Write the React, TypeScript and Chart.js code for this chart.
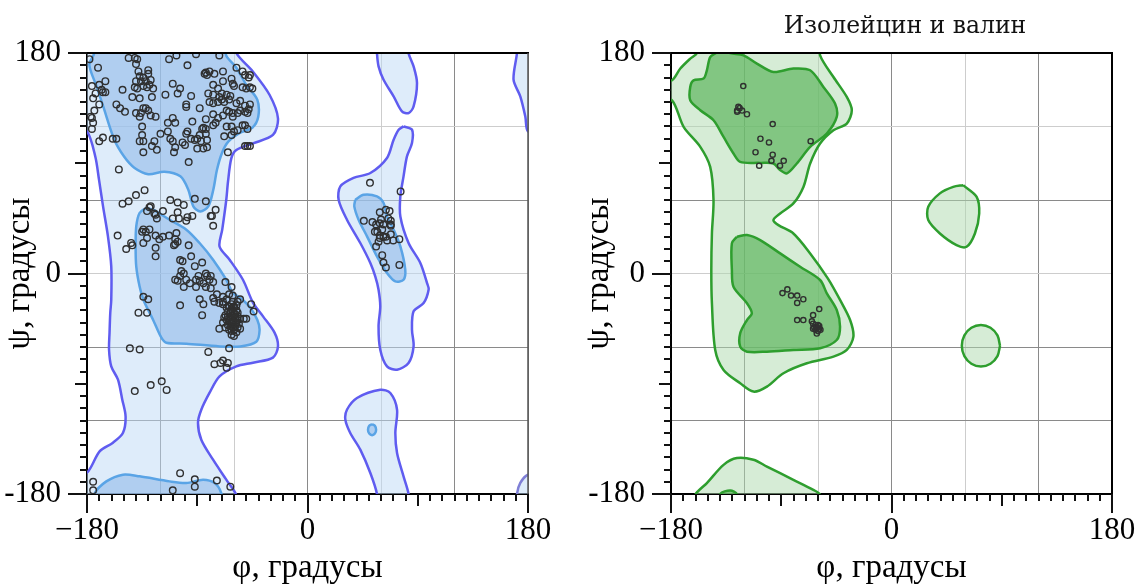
import React, { useEffect, useRef } from 'react';
import { Chart, registerables } from 'chart.js';

Chart.register(...registerables);

type Pt = [number, number];

// ---------- text & ticks ----------
const xAxisTitle = 'φ, градусы';
const yAxisTitle = 'ψ, градусы';
const rightTitle = 'Изолейцин и валин';
const gridStep = 60;
const tickLabelValues = [-180, 0, 180];
const xTickLabels = ['−180', '0', '180'];
const yTickLabels = ['-180', '0', '180'];
const lightGridPhi = [-60, 60];
const lightGridPsi = [120, 0];

// ---------- left chart: contour regions (phi, psi in degrees) ----------
const outerLeftMain: Pt[] = [[-190,190],[-58,190],[-58.1,180],[-44.5,164.7],[-30.9,145.7],[-24.1,126.6],[-28.2,113.1],[-44.5,106.2],[-58.1,100.8],[-62.2,94],[-64.9,74.9],[-66.3,60.2],[-69.6,35.8],[-71.8,22.1],[-63.6,11.3],[-52.7,-5.1],[-44.5,-23.8],[-36.3,-35],[-26.9,-48.3],[-24.1,-59.5],[-28.2,-68.7],[-44.5,-72.8],[-58.1,-75.8],[-71.8,-84],[-79.9,-97.3],[-86.7,-111.2],[-89.4,-121.8],[-86.7,-135.7],[-77.1,-152],[-66.3,-168.3],[-58,-181],[-57,-190],[-190,-190],[-190,-163],[-180,-162.6],[-169.7,-145.2],[-158.8,-138.1],[-150.6,-130],[-148.5,-116.7],[-151.2,-103],[-154.7,-86.7],[-160.2,-75.8],[-162,-62.2],[-161.6,-48.3],[-161,-32],[-160.2,-21.4],[-160.2,5.8],[-162.9,30.3],[-166.9,54.8],[-170.2,76.6],[-173.2,95.3],[-180,116],[-190,117]];
const outerLeftTopLH: Pt[] = [[56.5,190],[56.7,180],[58,169.1],[62.1,158.2],[70.3,144.6],[77.1,132.3],[82.5,131],[86.6,136.4],[89.4,155.5],[86.6,169.1],[82.5,180],[82.5,190]];
const outerLeftMidLH: Pt[] = [[78.4,120.1],[85.3,117.4],[85.3,106.5],[81.2,95.6],[78.4,79.3],[75.8,62.9],[75.8,46.6],[82.5,24.9],[92.1,8.6],[97.6,-7.8],[98.9,-13],[94.8,-24.1],[86.6,-30.9],[85.3,-45.9],[86.6,-59.5],[82.5,-73.1],[73.1,-78.5],[64.9,-75.8],[59.4,-62.2],[58,-43.2],[59.4,-26.9],[58,-13.2],[55.3,-2.4],[51.3,8.6],[43.1,24.9],[32.2,43.9],[25.4,60.2],[26.8,71.1],[37.6,78],[51.3,82],[64.9,94.3],[70.3,109.2],[74.4,117.4]];
const outerLeftLowLH: Pt[] = [[56.5,-190],[56.7,-180],[51.3,-162.9],[43.1,-143.8],[34.9,-130.2],[30.9,-119.3],[32.2,-111.2],[40.4,-101.6],[59.4,-94.9],[67.6,-97.6],[73.1,-111.2],[71.7,-130.2],[73.1,-146.5],[78.4,-165.6],[82.5,-180],[82.5,-190]];
const outerLeftEdgeTop: Pt[] = [[171,190],[171,180],[168.2,158.2],[173.7,144.6],[177.8,128.2],[180,116],[190,116],[190,190]];
const outerLeftEdgeBottom: Pt[] = [[171,-190],[171,-180],[173.7,-171],[180,-164.3],[190,-164],[190,-190]];
const innerLeftBeta: Pt[] = [[-174,190],[-174,180],[-178.1,170.4],[-172.4,153.3],[-166.7,136.2],[-157.7,109.2],[-149.6,95.3],[-141.4,86.4],[-130,81.1],[-116.9,83.1],[-103.8,79.3],[-97.3,68.4],[-93.2,54.8],[-87.5,50.7],[-81,54.8],[-76.9,68.4],[-73.9,84.7],[-69.8,98.4],[-64.7,107.6],[-54.9,114.9],[-45.1,119],[-40.2,128],[-41,141.9],[-50,154.1],[-58.1,168],[-66.3,177.8],[-68.7,190]];
const innerLeftAlpha: Pt[] = [[-131.6,53.5],[-126.1,52.1],[-112.6,43.9],[-98.9,35.8],[-88.1,24.9],[-77.1,11.3],[-66.3,-5.1],[-60.8,-15.9],[-54.9,-19.8],[-46.7,-27.9],[-41,-37.7],[-39.1,-45.9],[-41.8,-55.7],[-54.9,-59.5],[-71.8,-59.5],[-98.9,-57.3],[-115.3,-56.5],[-119.3,-52.4],[-126.1,-37.7],[-134,-21.4],[-137.1,-10.5],[-139.8,5.8],[-140.3,22.1],[-139.8,38.4],[-137.1,49.4]];
const innerLeftBottom: Pt[] = [[-174,-190],[-174,-180],[-164.2,-169.7],[-150.6,-164.2],[-137.1,-165.6],[-112.6,-169.7],[-98.9,-171],[-85.3,-168.3],[-75.8,-171],[-70.4,-179.2],[-69.6,-190]];
const innerLeftLH: Pt[] = [[39,60.2],[45.8,64.3],[56.7,62.9],[62.1,57.6],[64.9,46.6],[70.3,35.8],[75.8,22.1],[79.8,3.1],[78.4,-5.1],[71.7,-6.4],[64.9,0.4],[56.7,14],[48.6,30.3],[41.7,43.9],[38.2,54.8]];
const innerLeftDot: Pt[] = [[52.7,-123],[55,-124.3],[56,-127.5],[55,-130.7],[52.7,-132],[50.4,-130.7],[49.4,-127.5],[50.4,-124.3]];

// ---------- left chart: residues ----------
const betaPointsL: Pt[] = [[-178,175],[-171,168],[-146,176],[-141,176],[-139,175],[-140,171],[-130,166],[-130,163],[-113,175],[-107,178],[-98,170],[-91,179],[-72,178],[-84,163],[-83,164],[-82,162],[-80,165],[-76,163],[-69,165],[-58,168],[-53,165],[-51,162],[-47,162],[-48,160],[-138,165],[-137,161],[-134,160],[-136,157],[-132,157],[-128,158],[-129,154],[-140,157],[-139,151],[-141,152],[-134,153],[-131,152],[-126,151],[-176,153],[-170,154],[-165,157],[-168,150],[-167,148],[-165,148],[-173,147],[-175,143],[-151,150],[-143,144],[-137,143],[-127,144],[-116,146],[-110,155],[-104,151],[-106,147],[-95,145],[-99,138],[-88,135],[-81,147],[-77,154],[-77,146],[-73,151],[-70,147],[-69,157],[-72,144],[-70,142],[-66,146],[-63,145],[-62,159],[-61,155],[-60,153],[-53,152],[-50,151],[-47,152],[-45,151],[-80,140],[-77,139],[-73,140],[-68,140],[-64,142],[-58,139],[-55,141],[-51,137],[-47,138]];
const betaPointsL2: Pt[] = [[-170,138],[-174,133],[-156,138],[-153,135],[-149,132],[-140,131],[-136,131],[-134,135],[-132,135],[-130,133],[-128,129],[-124,128],[-137,128],[-177,128],[-176,127],[-175,123],[-176,118],[-110,127],[-114,123],[-108,123],[-94,124],[-99,136],[-83,126],[-77,130],[-73,127],[-69,129],[-66,133],[-64,132],[-61,131],[-57,131],[-55,133],[-51,132],[-49,131],[-48,134],[-61,128],[-75,123],[-77,121],[-66,120],[-62,120],[-57,117],[-53,121],[-51,121],[-49,118],[-170,108],[-167,111],[-159,110],[-156,110],[-135,120],[-135,113],[-137,108],[-134,108],[-125,108],[-127,104],[-123,101],[-134,99],[-120,114],[-114,116],[-112,110],[-110,108],[-108,103],[-109,99],[-102,107],[-99,114],[-98,116],[-95,110],[-92,109],[-90,110],[-88,113],[-86,118],[-85,119],[-83,118],[-83,114],[-87,108],[-82,109],[-90,102],[-85,102],[-82,103],[-100,105],[-68,112],[-62,113],[-60,116],[-51,104],[-49,104],[-47,104],[-65,99],[-97,91],[-154,85]];
const bridgePointsL: Pt[] = [[-133,68],[-140,64],[-151,57],[-146,59],[-128,55],[-129,54],[-131,51],[-125,49],[-124,48],[-123,45],[-118,51],[-112,60],[-106,58],[-101,56],[-106,50],[-110,45],[-105,45],[-99,43],[-98,46],[-94,47],[-92,61],[-83,59],[-79,47],[-78,47],[-75,52],[-77,39]];
const alphaPointsL: Pt[] = [[-155,31],[-144,25],[-143,23],[-148,20],[-134,36],[-132,34],[-129,36],[-135,34],[-131,29],[-134,25],[-124,31],[-121,28],[-118,30],[-113,31],[-107,33],[-108,28],[-106,26],[-108,24],[-109,23],[-124,21],[-124,14],[-97,23],[-95,14],[-92,6],[-86,9],[-104,11],[-102,10],[-103,2],[-101,0],[-104,-2],[-108,-5],[-106,-6],[-99,-5],[-101,-11],[-96,-8],[-91,-5],[-89,-2],[-88,-6],[-83,0],[-82,-2],[-85,-8],[-91,-11],[-83,-11],[-80,-5],[-79,-2],[-77,-7],[-79,-12],[-67,-7],[-62,-11],[-64,-17],[-69,-19],[-66,-21],[-61,-18],[-55,-21],[-72,-24],[-76,-23],[-77,-20],[-88,-21],[-85,-25],[-104,-26],[-134,-19],[-130,-21],[-60,-27],[-64,-27],[-46,-25],[-74,-17],[-69,-25],[-69,-23],[-61,-23],[-57,-23],[-44,-31],[-138,-32],[-131,-32],[-86,-34],[-72,-45],[-50,-37],[-52,-37]];
const helixCorePointsL: Pt[] = [[-66,-28],[-64,-27],[-62,-29],[-60,-28],[-58,-30],[-65,-31],[-63,-32],[-61,-31],[-59,-33],[-57,-32],[-67,-34],[-65,-35],[-63,-36],[-61,-35],[-59,-36],[-57,-35],[-55,-37],[-66,-38],[-64,-39],[-62,-40],[-60,-39],[-58,-40],[-56,-41],[-65,-42],[-63,-43],[-61,-44],[-59,-43],[-57,-44],[-64,-46],[-62,-47],[-60,-46],[-58,-48],[-62,-50],[-60,-51],[-68,-36],[-69,-40],[-67,-44],[-55,-45],[-57,-38],[-61,-41],[-63,-38],[-59,-41],[-60,-33],[-62,-25],[-58,-26]];
const lowerPointsL: Pt[] = [[-145,-61],[-137,-62],[-81,-64],[-64,-61],[-76,-74],[-71,-73],[-69,-71],[-65,-73],[-66,-77],[-119,-88],[-128,-91],[-115,-95],[-141,-96],[-104,-163],[-92,-168],[-74,-169],[-92,-174],[-63,-174],[-175,-170],[-175,-177],[-110,-177]];
const leftHandedPointsL: Pt[] = [[51,74],[76,67],[59,50],[64,52],[67,51],[66,45],[68,43],[46,43],[53,42],[56,40],[59,41],[60,44],[62,40],[68,40],[55,34],[57,34],[61,36],[59,31],[62,30],[64,30],[68,32],[70,27],[65,27],[75,28],[59,29],[58,26],[56,22],[61,15],[62,9],[64,5],[75,7],[68,39]];

// ---------- right chart: contour regions ----------
const outerRightMain: Pt[] = [[-190,156],[-179.2,157.7],[-172.4,167.3],[-164.3,175.4],[-158.8,180],[-158,190],[-58,190],[-58.3,178.1],[-47.4,160.4],[-36.5,144.1],[-32.4,133.3],[-36.5,122.4],[-47.4,117],[-58.3,106.1],[-66.4,89.8],[-71.9,70.7],[-80.1,57.2],[-90.9,49],[-96.4,43.6],[-92.3,39.5],[-80.1,32.7],[-66.4,16.4],[-52,-4],[-42,-21.6],[-33.8,-38],[-31.1,-51.6],[-36.5,-62.4],[-47.4,-67.9],[-69.1,-73.3],[-88.2,-81.4],[-101.7,-92.3],[-112.7,-96.4],[-123.5,-89.6],[-137.1,-78.7],[-143.9,-62.4],[-146.6,-24.3],[-147.1,2.8],[-146.6,32.7],[-145.3,59.9],[-148,87],[-156.1,103.4],[-169.7,119.7],[-179.2,141.4],[-190,141]];
const outerRightBottom: Pt[] = [[-161,-190],[-160.2,-180.6],[-150.7,-171.1],[-137.1,-156.2],[-126.2,-150.7],[-112.7,-152.1],[-101.7,-157.6],[-80.1,-168.4],[-63.8,-176.6],[-58.3,-180.6],[-58,-190]];
const outerRightBlob: Pt[] = [[58.5,72.1],[69.5,62.6],[71.6,49],[68.1,32.7],[61.3,21.8],[53.1,23.2],[39.5,32.7],[30,43.6],[30,54.4],[39.5,65.4],[50.4,70.7]];
const outerRightRound: Pt[] = [[88.6,-59],[86.5,-50.5],[80.8,-44.3],[73,-42],[65.2,-44.3],[59.5,-50.5],[57.4,-59],[59.5,-67.5],[65.2,-73.7],[73,-76],[80.8,-73.7],[86.5,-67.5]];
const innerRightBeta: Pt[] = [[-142.5,190],[-142.5,181],[-148,176.7],[-150.7,165.9],[-153.4,159.1],[-161.6,157.7],[-164.3,152.3],[-164.3,141.4],[-156.1,133.3],[-145.3,125.1],[-137.1,111.5],[-129,98],[-123.5,91.1],[-107.2,90.3],[-96.4,89.8],[-90.9,84.4],[-85.4,81.7],[-77.3,89.8],[-66.4,103.4],[-52.8,114.3],[-44.7,127.8],[-46.1,138.7],[-55.6,152.3],[-66.4,165.9],[-80.1,167.3],[-96.4,164.5],[-109.9,171.4],[-120.8,178.1],[-134.3,181],[-134,190]];
const innerRightAlpha: Pt[] = [[-126.2,30],[-118,31.4],[-107.2,27.3],[-90.9,16.4],[-74.6,5.5],[-58.3,-5.3],[-52.8,-16.2],[-44.7,-29.8],[-42,-43.4],[-44.7,-54.3],[-58.3,-61],[-80.1,-62.4],[-101.7,-63.8],[-118,-63.8],[-123.5,-59.7],[-123.5,-48.8],[-118,-38],[-114,-32.5],[-118,-24.3],[-129,-10.8],[-130.3,2.8],[-130.3,24.6]];
const innerRightBottom: Pt[] = [[-141,-190],[-139.8,-180],[-131.7,-177.1],[-126.2,-180],[-125,-190]];

// ---------- right chart: residues ----------
const betaPointsR: Pt[] = [[-121,153],[-125,136],[-126,133],[-124,135],[-126,132],[-122,133],[-118,130],[-97,122],[-107,110],[-100,107],[-111,99],[-97,97],[-98,92],[-88,92],[-91,88],[-108,88],[-66,108]];
const alphaPointsR: Pt[] = [[-85,-13],[-89,-16],[-82,-18],[-77,-18],[-72,-21],[-77,-24],[-59,-29],[-64,-34],[-65,-39],[-77,-38],[-72,-38],[-64,-41],[-62,-42],[-60,-42],[-63,-44],[-61,-44],[-59,-45],[-62,-46],[-60,-47],[-58,-46],[-61,-49],[-64,-45],[-59,-43]];

// ---------- styles ----------
const SERIF = 'Liberation Serif';
const GRID_DARK = '#8a8a8a';
const GRID_LIGHT = '#cdcdcd';

const toXY = (pts: Pt[]) => [...pts, pts[0]].map(([x, y]) => ({ x, y }));
const toPts = (pts: Pt[]) => pts.map(([x, y]) => ({ x, y }));

const region = (pts: Pt[], fill: string, line: string, order: number) => ({
  data: toXY(pts),
  showLine: true,
  fill: 'shape',
  backgroundColor: fill,
  borderColor: line,
  borderWidth: 2.5,
  pointRadius: 0,
  pointHoverRadius: 0,
  tension: 0.3,
  capBezierPoints: false,
  order,
});

const residues = (pts: Pt[], r: number) => ({
  data: toPts(pts),
  showLine: false,
  pointRadius: r,
  pointHoverRadius: r,
  pointBorderWidth: 1.4,
  pointBorderColor: '#303030',
  pointBackgroundColor: 'rgba(0,0,0,0)',
  order: 0,
});

const labelFor = (labels: string[]) => (v: number) => {
  const i = tickLabelValues.indexOf(v);
  return i >= 0 ? labels[i] : '';
};

const axisDecor = {
  id: 'axisDecor',
  afterDraw(chart: any, _a: any, opts: any) {
    const { ctx, chartArea: a } = chart;
    const xs = chart.scales.x;
    const ys = chart.scales.y;
    ctx.save();
    ctx.strokeStyle = '#111';
    ctx.lineWidth = 2;
    ctx.beginPath();
    for (let v = -180; v <= 180; v += 10) {
      const len = v % 180 === 0 ? 19 : v % 90 === 0 ? 12 : 7;
      const px = Math.round(xs.getPixelForValue(v));
      ctx.moveTo(px, a.bottom);
      ctx.lineTo(px, a.bottom + len);
      const py = Math.round(ys.getPixelForValue(v));
      ctx.moveTo(a.left, py);
      ctx.lineTo(a.left - len, py);
    }
    ctx.stroke();
    ctx.beginPath();
    ctx.strokeStyle = '#000';
    ctx.lineWidth = 2;
    ctx.moveTo(a.left, a.top);
    ctx.lineTo(a.right + 1, a.top);
    ctx.stroke();
    ctx.beginPath();
    ctx.strokeStyle = opts.rightColor;
    ctx.lineWidth = opts.rightWidth;
    ctx.moveTo(a.right, a.top);
    ctx.lineTo(a.right, a.bottom);
    ctx.stroke();
    ctx.restore();
  },
};

const makeScales = (yWidth: number, yTitlePad: number) => ({
  x: {
    type: 'linear',
    min: -180,
    max: 180,
    position: 'bottom',
    ticks: {
      stepSize: gridStep,
      autoSkip: false,
      maxRotation: 0,
      padding: 18,
      color: '#000',
      font: { family: SERIF, size: 31 },
      callback: labelFor(xTickLabels),
    },
    grid: {
      drawTicks: false,
      lineWidth: 1,
      color: (c: any) => (c.tick && lightGridPhi.includes(c.tick.value) ? GRID_LIGHT : GRID_DARK),
    },
    border: { color: '#000', width: 2 },
    title: {
      display: true,
      text: xAxisTitle,
      color: '#000',
      font: { family: SERIF, size: 33, lineHeight: 1.1 },
      padding: { top: 0, bottom: 0 },
    },
    afterFit: (s: any) => {
      s.height = 92;
    },
  },
  y: {
    type: 'linear',
    min: -180,
    max: 180,
    position: 'left',
    ticks: {
      stepSize: gridStep,
      autoSkip: false,
      padding: 26,
      color: '#000',
      font: { family: SERIF, size: 31 },
      callback: labelFor(yTickLabels),
    },
    grid: {
      drawTicks: false,
      lineWidth: 1,
      color: (c: any) => (c.tick && lightGridPsi.includes(c.tick.value) ? GRID_LIGHT : GRID_DARK),
    },
    border: { color: '#000', width: 2 },
    title: {
      display: true,
      text: yAxisTitle,
      color: '#000',
      font: { family: SERIF, size: 33, lineHeight: 1.1 },
      padding: { top: yTitlePad, bottom: 0 },
    },
    afterFit: (s: any) => {
      s.width = yWidth;
    },
  },
});

const BLUE_OUT_FILL = 'rgba(190,218,245,0.5)';
const BLUE_OUT_LINE = '#5f5cf0';
const BLUE_IN_FILL = 'rgba(145,186,233,0.6)';
const BLUE_IN_LINE = '#5aa4e6';
const GREEN_OUT_FILL = 'rgba(173,217,173,0.5)';
const GREEN_IN_FILL = 'rgba(94,182,94,0.7)';
const GREEN_LINE = '#2e9e2e';

const leftConfig = (): any => ({
  type: 'scatter',
  data: {
    datasets: [
      residues([...betaPointsL, ...betaPointsL2, ...bridgePointsL, ...alphaPointsL, ...helixCorePointsL, ...lowerPointsL, ...leftHandedPointsL], 3.3),
      region(innerLeftBeta, BLUE_IN_FILL, BLUE_IN_LINE, 1),
      region(innerLeftAlpha, BLUE_IN_FILL, BLUE_IN_LINE, 1),
      region(innerLeftBottom, BLUE_IN_FILL, BLUE_IN_LINE, 1),
      region(innerLeftLH, BLUE_IN_FILL, BLUE_IN_LINE, 1),
      region(innerLeftDot, BLUE_IN_FILL, BLUE_IN_LINE, 1),
      region(outerLeftMain, BLUE_OUT_FILL, BLUE_OUT_LINE, 2),
      region(outerLeftTopLH, BLUE_OUT_FILL, BLUE_OUT_LINE, 2),
      region(outerLeftMidLH, BLUE_OUT_FILL, BLUE_OUT_LINE, 2),
      region(outerLeftLowLH, BLUE_OUT_FILL, BLUE_OUT_LINE, 2),
      region(outerLeftEdgeTop, BLUE_OUT_FILL, BLUE_OUT_LINE, 2),
      region(outerLeftEdgeBottom, BLUE_OUT_FILL, '#7f7fd6', 2),
    ],
  },
  options: {
    responsive: false,
    animation: false,
    layout: { padding: { left: 0, top: 53, right: 45, bottom: 0 } },
    elements: { line: { capBezierPoints: false } },
    plugins: {
      legend: { display: false },
      tooltip: { enabled: false },
      title: { display: false },
      axisDecor: { rightColor: '#555', rightWidth: 1.5 },
    },
    scales: makeScales(87, 2),
  },
  plugins: [axisDecor],
});

const rightConfig = (): any => ({
  type: 'scatter',
  data: {
    datasets: [
      residues([...betaPointsR, ...alphaPointsR], 2.6),
      region(innerRightBeta, GREEN_IN_FILL, GREEN_LINE, 1),
      region(innerRightAlpha, GREEN_IN_FILL, GREEN_LINE, 1),
      region(innerRightBottom, GREEN_IN_FILL, GREEN_LINE, 1),
      region(outerRightMain, GREEN_OUT_FILL, GREEN_LINE, 2),
      region(outerRightBottom, GREEN_OUT_FILL, GREEN_LINE, 2),
      region(outerRightBlob, GREEN_OUT_FILL, GREEN_LINE, 2),
      region(outerRightRound, GREEN_OUT_FILL, GREEN_LINE, 2),
    ],
  },
  options: {
    responsive: false,
    animation: false,
    layout: { padding: 0 },
    elements: { line: { capBezierPoints: false } },
    plugins: {
      legend: { display: false },
      tooltip: { enabled: false },
      title: {
        display: true,
        text: rightTitle,
        color: '#111',
        fullSize: true,
        font: { family: 'DejaVu Serif', size: 23.5, weight: 'normal', lineHeight: 1.2 },
        padding: { top: 13, bottom: 11.8 },
      },
      axisDecor: { rightColor: '#000', rightWidth: 2 },
    },
    scales: {
      ...makeScales(98, 8),
      y2: {
        type: 'linear',
        position: 'right',
        display: true,
        ticks: { display: false },
        grid: { display: false, drawTicks: false },
        border: { display: false },
        title: { display: false },
        afterFit: (s: any) => {
          s.width = 125;
        },
      },
    },
  },
  plugins: [axisDecor],
});

export default function App() {
  const leftRef = useRef<HTMLCanvasElement>(null);
  const rightRef = useRef<HTMLCanvasElement>(null);
  useEffect(() => {
    const l = new Chart(leftRef.current as HTMLCanvasElement, leftConfig());
    const r = new Chart(rightRef.current as HTMLCanvasElement, rightConfig());
    return () => {
      l.destroy();
      r.destroy();
    };
  }, []);
  return (
    <div style={{ position: 'absolute', left: 0, top: 0, width: 1147, height: 586, overflow: 'hidden', background: '#fff' }}>
      <canvas ref={leftRef} width={573} height={586} style={{ position: 'absolute', left: 0, top: 0, width: 573, height: 586 }} />
      <canvas ref={rightRef} width={664} height={586} style={{ position: 'absolute', left: 573, top: 0, width: 664, height: 586 }} />
    </div>
  );
}
